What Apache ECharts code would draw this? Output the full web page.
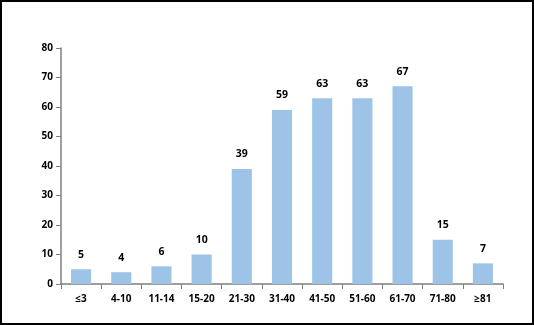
<!DOCTYPE html>
<html><head><meta charset="utf-8">
<script src="https://cdn.jsdelivr.net/npm/echarts@6/dist/echarts.min.js"></script>
<style>
html,body{margin:0;padding:0;background:#fff;}
#wrap{position:absolute;left:0;top:0;width:534px;height:325px;box-sizing:border-box;border:2px solid #000;}
#c{position:absolute;left:0;top:0;width:534px;height:325px;}
</style></head>
<body>
<div id="c"></div><div id="wrap"></div>
<script>
var categories = ['≤3','4-10','11-14','15-20','21-30','31-40','41-50','51-60','61-70','71-80','≥81'];
var values = [5,4,6,10,39,59,63,63,67,15,7];
var yTicks = {min:0,max:80,interval:10};
var chart = echarts.init(document.getElementById('c'));
var font = 'Open Sans, Noto Sans, sans-serif';
chart.setOption({
  animation:false,
  grid:{left:61,right:31,top:48,bottom:41},
  xAxis:{type:'category',data:categories,
    axisLine:{lineStyle:{color:'#7f7f7f',width:1.5}},
    axisTick:{show:true,alignWithLabel:false,length:5,lineStyle:{color:'#7f7f7f'}},
    axisLabel:{color:'#000',fontWeight:'bold',fontSize:10,fontFamily:font,margin:10,interval:0}},
  yAxis:{type:'value',min:yTicks.min,max:yTicks.max,interval:yTicks.interval,
    axisLine:{show:true,lineStyle:{color:'#7f7f7f',width:1.5}},
    axisTick:{show:true,length:5,lineStyle:{color:'#7f7f7f'}},
    splitLine:{show:false},
    axisLabel:{color:'#000',fontWeight:'bold',fontSize:10,fontFamily:font,margin:8}},
  series:[{type:'bar',data:values,barWidth:'50%',
    itemStyle:{color:'#9dc3e6'},
    label:{show:true,position:'top',distance:9,color:'#000',fontWeight:'bold',fontSize:10.5,fontFamily:font}}]
});
</script>
</body></html>
